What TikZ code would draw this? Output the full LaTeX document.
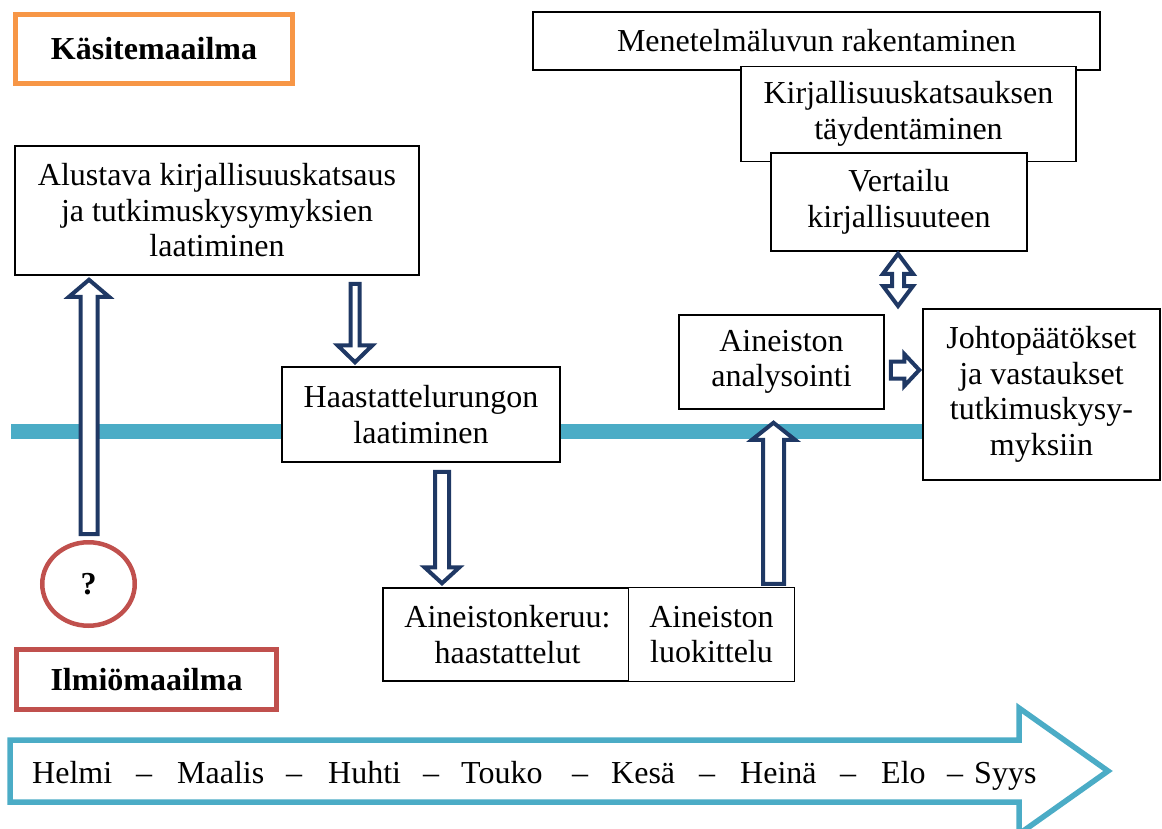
\documentclass[tikz,border=0pt]{standalone}
\usepackage{fontspec}
\setmainfont{Liberation Serif}
\usetikzlibrary{positioning,calc,shapes.geometric}

\definecolor{navy}{HTML}{1F3864}
\definecolor{aikasin}{HTML}{4BACC6}
\definecolor{oranssi}{HTML}{F79646}
\definecolor{punainen}{HTML}{C0504D}
\newcommand\teksti{\fontsize{32}{35.5}\selectfont}

\tikzset{
  box/.style={draw, line width=1.5pt, fill=white, align=center, inner sep=0pt, font=\teksti},
  world/.style={draw, line width=5pt, fill=white, inner sep=0pt, font=\teksti\bfseries},
  month/.style={anchor=base west, inner sep=0pt, font=\teksti},
  % hollow block arrow: shaft half width, head half width, head length
  fatarrow/.style n args={3}{draw=navy, line width=4pt, fill=white, line join=miter,
    to path={
      ($(\tikztotarget)!#3!(\tikztostart)$) coordinate (fh)
      ($(\tikztostart)!#1!90:(\tikztotarget)$) -- ($(fh)!#1!90:(\tikztotarget)$)
      -- ($(fh)!#2!90:(\tikztotarget)$) -- (\tikztotarget)
      -- ($(fh)!#2!-90:(\tikztotarget)$) -- ($(fh)!#1!-90:(\tikztotarget)$)
      -- ($(\tikztostart)!#1!-90:(\tikztotarget)$) -- cycle}},
  twoway/.style n args={3}{draw=navy, line width=4pt, fill=white, line join=miter,
    to path={
      ($(\tikztostart)!#3!(\tikztotarget)$) coordinate (ft)
      ($(\tikztotarget)!#3!(\tikztostart)$) coordinate (fh)
      ($(ft)!#1!90:(\tikztotarget)$) -- ($(fh)!#1!90:(\tikztotarget)$)
      -- ($(fh)!#2!90:(\tikztotarget)$) -- (\tikztotarget)
      -- ($(fh)!#2!-90:(\tikztotarget)$) -- ($(fh)!#1!-90:(\tikztotarget)$)
      -- ($(ft)!#1!-90:(\tikztotarget)$) -- ($(ft)!#2!-90:(\tikztotarget)$)
      -- (\tikztostart) -- ($(ft)!#2!90:(\tikztotarget)$) -- cycle}},
}

\begin{document}
\begin{tikzpicture}[x=1pt, y=-1pt]
\useasboundingbox (0,0) rectangle (1162,829);

% timeline through the middle
\coordinate (aikaviiva) at (11,431.5);

\node [world, draw=oranssi, minimum width=277pt, minimum height=69pt] (kasite) at (154,49) {Käsitemaailma};
\node [world, draw=punainen, minimum width=260pt, minimum height=60pt] (ilmio) at (146.5,679.5) {Ilmiömaailma};

\node [box, minimum width=404pt, minimum height=129pt] (alustava) at (217,210.5) {Alustava kirjallisuuskatsaus\\ja tutkimuskysymyksien\\laatiminen};
\node [box, minimum width=567pt, minimum height=58pt] (menetelma) at (816.5,41) {Menetelmäluvun rakentaminen};
\node [box, below=-5pt of menetelma, xshift=92pt, minimum width=335pt, minimum height=95pt] (kirjallisuus) {Kirjallisuuskatsauksen\\täydentäminen};
\node [box, below=-10pt of kirjallisuus, xshift=-9.5pt, minimum width=256pt, minimum height=98pt] (vertailu) {Vertailu\\kirjallisuuteen};

\node [draw=punainen, line width=4.5pt, ellipse, minimum width=92.5pt, minimum height=83.5pt, inner sep=0pt, font=\teksti\bfseries] (kysymys) at (88.5,584) {?};

\draw [aikasin, line width=15pt] (aikaviiva) -- (aikaviiva -| 923,0);

\node [box, minimum width=278pt, minimum height=95pt] (haastrunko) at (421,414.5) {Haastattelurungon\\laatiminen};
\node [box, minimum width=205pt, minimum height=94pt] (analyysi) at (781.5,362) {Aineiston\\analysointi};
\node [box, minimum width=237pt, minimum height=171pt] (johto) at (1041.5,394.5) {Johtopäätökset\\ja vastaukset\\tutkimuskysy-\\myksiin};
\node [box, minimum width=249pt, minimum height=93pt] (keruu) at (507.5,634.5) {Aineistonkeruu:\\haastattelut};
\node [box, right=-5pt of keruu, minimum width=166pt, minimum height=94pt] (luokittelu) {Aineiston\\luokittelu};

% block arrows between the steps
\coordinate (nuoli1) at (355,0);
\coordinate (nuoli2) at (442,0);
\coordinate (nuoli3) at (89,0);
\coordinate (nuoli4) at (773.5,0);
\coordinate (nuoli5) at (0,370);
\coordinate (nuoli6) at (898,0);
\coordinate (nuoli6b) at (898,306);

\draw [fatarrow={4.5pt}{17.5pt}{17pt}] ([yshift=-8pt]alustava.south -| nuoli1) to ([yshift=4pt]haastrunko.north -| nuoli1);
\draw [fatarrow={7pt}{17.5pt}{16pt}] ([yshift=-9pt]haastrunko.south -| nuoli2) to ([yshift=4pt]keruu.north -| nuoli2);
\draw [fatarrow={8.5pt}{20pt}{17pt}] ([yshift=6pt]kysymys.north -| nuoli3) to ([yshift=-4pt]alustava.south -| nuoli3);
\draw [fatarrow={10.5pt}{21.5pt}{17pt}] ([yshift=3pt]luokittelu.north -| nuoli4) to ([yshift=-13pt]analyysi.south -| nuoli4);
\draw [fatarrow={8.5pt}{16pt}{15pt}] ([xshift=6pt]analyysi.east |- nuoli5) to ([xshift=-3pt]johto.west |- nuoli5);
\draw [twoway={6pt}{15pt}{20pt}] ([yshift=-2pt]vertailu.south -| nuoli6) to (nuoli6b);

% months
\draw [aikasin, line width=5.5pt, line join=miter] (10,740) -- (1019,740) -- (1019,708) -- (1108,771) -- (1019,834) -- (1019,802) -- (10,802) -- cycle;
\foreach \w/\x [count=\i] in {Helmi/32, Maalis/177, Huhti/328, Touko/461, Kesä/611, Heinä/740, Elo/881, Syys/974}
  \node [month] (kk\i) at (\x,783) {\w};
\foreach \x [count=\i] in {136, 286, 423, 572, 699, 840, 947}
  \node [month] (viiva\i) at (\x,783) {–};
\end{tikzpicture}
\end{document}
